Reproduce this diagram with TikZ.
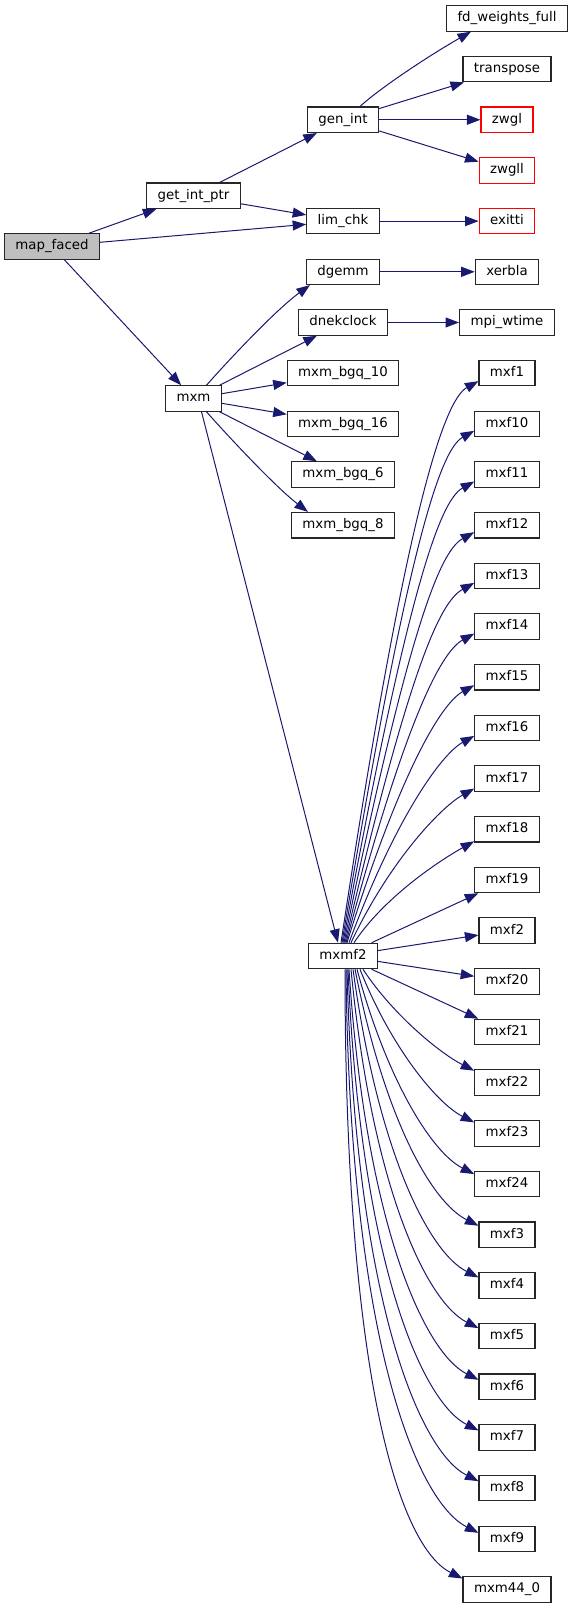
\documentclass[tikz,border=0pt]{standalone}
\usepackage{fontspec}
\setmainfont{DejaVu Sans}
\usetikzlibrary{arrows.meta,calc}
\definecolor{edgec}{HTML}{191970}
\definecolor{rootfill}{HTML}{BFBFBF}
\tikzset{
  box/.style={draw=black!85, line width=1.1pt, fill=white, minimum height=25.5pt,
    inner xsep=11pt, inner ysep=0pt, text height=10pt, text depth=3.2pt,
    font=\fontsize{13.33pt}{16pt}\selectfont, anchor=center},
  redbox/.style={box, draw=red},
  rootbox/.style={box, fill=rootfill},
  edge/.style={draw=edgec, line width=1pt, -{Triangle[length=13.5pt,width=10pt]}},
}
\begin{document}
\begin{tikzpicture}[x=1pt,y=-1pt]
\useasboundingbox (0,0) rectangle (573,1608);
% rank 0 and 1
\node[rootbox] (mapfaced) at (52,246.46) {map\_faced};
\node[box] (getintptr) at (193.5,195.78) {get\_int\_ptr};
\node[box] (mxm) at (193.5,398.5) {mxm};
% rank 2
\node[box] (genint) at (343,119.76) {gen\_int};
\node[box] (limchk) at (343,221.12) {lim\_chk};
\node[box] (dgemm) at (343,271.8) {dgemm};
\node[box] (dnekclock) at (343,322.48) {dnekclock};
\node[box] (bgqA) at (343,373.16) {mxm\_bgq\_10};
\node[box] (bgqB) at (343,423.84) {mxm\_bgq\_16};
\node[box] (bgqC) at (343,474.52) {mxm\_bgq\_6};
\node[box] (bgqD) at (343,525.2) {mxm\_bgq\_8};
\node[box] (mxmf2) at (343,955.98) {mxmf2};
% rank 3
\node[box] (fdw) at (507,18.4) {fd\_weights\_full};
\node[box] (transpose) at (507,69.08) {transpose};
\node[redbox] (zwgl) at (507,119.76) {zwgl};
\node[redbox] (zwgll) at (507,170.44) {zwgll};
\node[redbox] (exitti) at (507,221.12) {exitti};
\node[box] (xerbla) at (507,271.8) {xerbla};
\node[box] (mpiwtime) at (507,322.48) {mpi\_wtime};
\foreach \n/\t/\r in {mxf1/mxf1/7, mxf10/mxf10/8, mxf11/mxf11/9, mxf12/mxf12/10,
  mxf13/mxf13/11, mxf14/mxf14/12, mxf15/mxf15/13, mxf16/mxf16/14, mxf17/mxf17/15,
  mxf18/mxf18/16, mxf19/mxf19/17, mxf2/mxf2/18, mxf20/mxf20/19, mxf21/mxf21/20,
  mxf22/mxf22/21, mxf23/mxf23/22, mxf24/mxf24/23, mxf3/mxf3/24, mxf4/mxf4/25,
  mxf5/mxf5/26, mxf6/mxf6/27, mxf7/mxf7/28, mxf8/mxf8/29, mxf9/mxf9/30,
  mxm440/mxm44\_0/31}
  \node[box] (\n) at (507,{18.4+50.68*\r}) {\t};

% edges from map_faced
\draw[edge] (mapfaced) -- (getintptr);
\draw[edge] (mapfaced) -- (limchk);
\draw[edge] (mapfaced) -- (mxm);
% get_int_ptr
\draw[edge] (getintptr) -- (genint);
\draw[edge] (getintptr) -- (limchk);
% gen_int
\draw[edge] ($(genint.north)+(17,0)$) .. controls (380,88) and (430,55) .. ($(fdw.south west)+(25,0)$);
\draw[edge] (genint) -- (transpose);
\draw[edge] (genint) -- (zwgl);
\draw[edge] (genint) -- (zwgll);
\draw[edge] (limchk) -- (exitti);
\draw[edge] (dgemm) -- (xerbla);
\draw[edge] (dnekclock) -- (mpiwtime);
% mxm
\draw[edge] ($(mxm.north)+(13,0)$) .. controls (227,362) and (275,310.5) .. ($(dgemm.south west)+(4,0)$);
\draw[edge] (mxm) -- (dnekclock);
\draw[edge] (mxm) -- (bgqA);
\draw[edge] (mxm) -- (bgqB);
\draw[edge] (mxm) -- (bgqC);
\draw[edge] ($(mxm.south)+(13,0)$) .. controls (227,435) and (275,486.5) .. ($(bgqD.north west)+(17,0)$);
\draw[edge] ($(mxm.south)+(8,0)$) -- ($(mxmf2.north)+(-5,0)$);
% mxmf2 fan: straight ones
\draw[edge] (mxmf2) -- (mxf19);
\draw[edge] (mxmf2) -- (mxf2);
\draw[edge] (mxmf2) -- (mxf20);
\draw[edge] (mxmf2) -- (mxf21);
% upward curves
\foreach \n/\r/\hw/\xs/\off in {mxf1/7/28/341/8, mxf10/8/32/342/7, mxf11/9/32/343/7,
  mxf12/10/32/344/7, mxf13/11/32/345/7, mxf14/12/32/346/7, mxf15/13/32/347/8,
  mxf16/14/32/349/8, mxf17/15/32/351/10, mxf18/16/32/354/12} {
  \pgfmathsetmacro\yt{18.4+50.68*\r+\off}
  \pgfmathsetmacro\xt{507-\hw}
  \pgfmathsetmacro\hh{943-\yt}
  \pgfmathsetmacro\dxa{min(65,30+35*(\hh-100)/260)}
  \pgfmathsetmacro\dya{\hh*min(0.77,0.45+0.32*(\hh-100)/260)}
  \draw[edge] ($(mxmf2.north)+(\xs-343,0)$) .. controls (\xs+\dxa,943-\dya) and (\xt-35,\yt+19) .. ($(\n.west)+(0,\off)$);
}
% downward curves
\foreach \n/\r/\hw/\xs/\off in {mxf22/21/32/363/-12, mxf23/22/32/360/-11, mxf24/23/32/357/-10,
  mxf3/24/28/355/-9, mxf4/25/28/353/-8, mxf5/26/28/351/-8, mxf6/27/28/349/-7,
  mxf7/28/28/348/-7, mxf8/29/28/347/-7, mxf9/30/28/346/-6, mxm440/31/44/345/-11} {
  \pgfmathsetmacro\yt{18.4+50.68*\r+\off}
  \pgfmathsetmacro\xt{507-\hw}
  \pgfmathsetmacro\hh{\yt-969}
  \pgfmathsetmacro\dxa{max(0,min(30,30*(608-\hh)/352))}
  \pgfmathsetmacro\ky{min(0.45+0.0009*(\hh-100),0.59+0.000244*(\hh-256))}
  \pgfmathsetmacro\cc{min(35+0.0769*(\hh-100),47+0.04545*(\hh-256))}
  \draw[edge] ($(mxmf2.south)+(\xs-343,0)$) .. controls (\xs+\dxa,969+\ky*\hh) and (\xt-\cc,\yt-0.5*\cc) .. ($(\n.west)+(0,\off)$);
}
\end{tikzpicture}
\end{document}
